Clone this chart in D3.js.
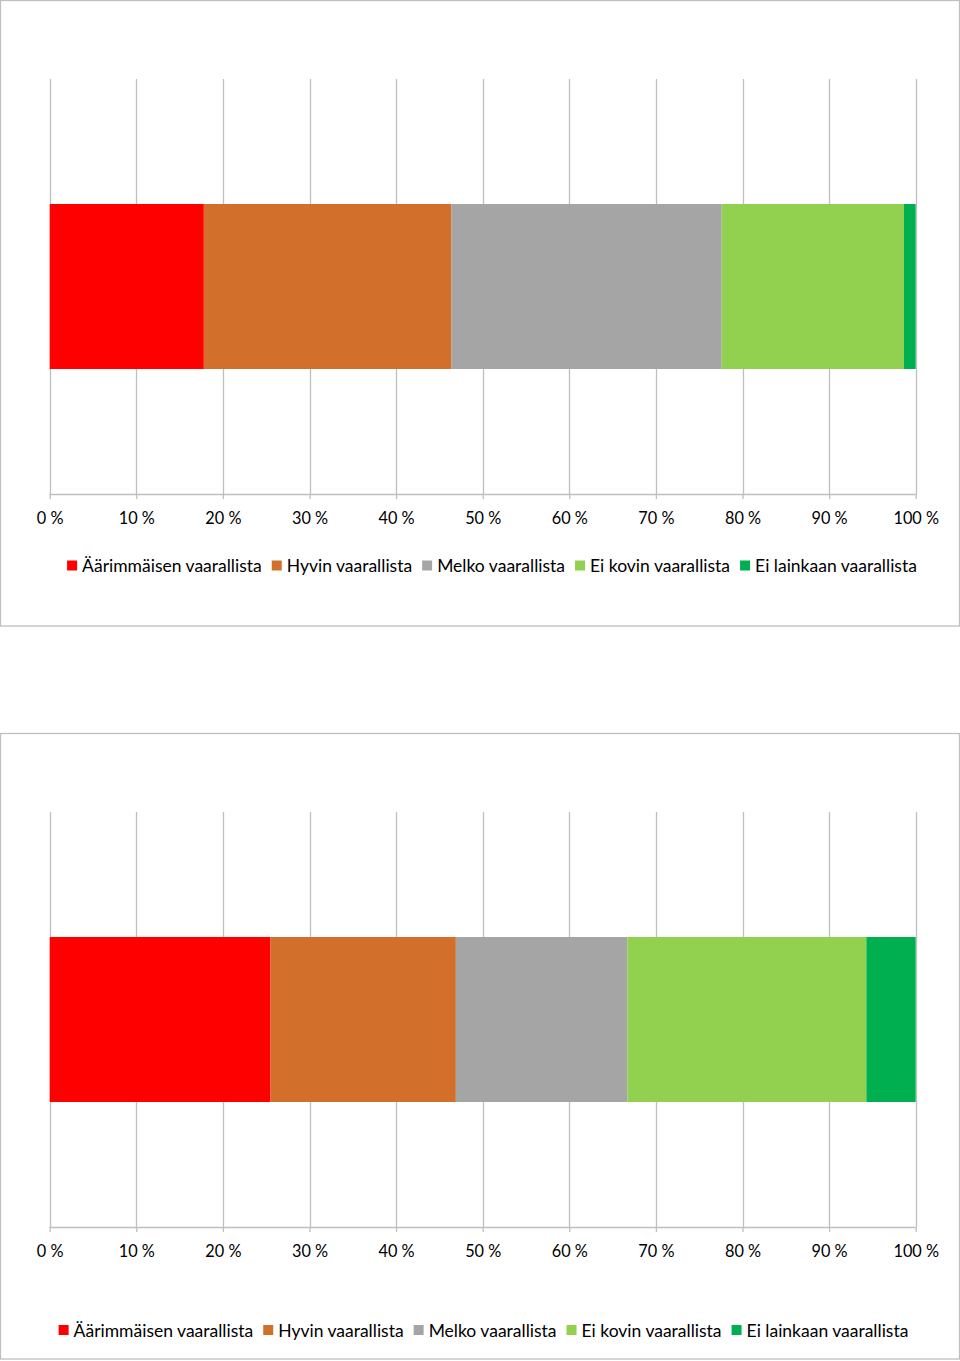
<!DOCTYPE html>
<html>
<head>
  <meta charset="utf-8">
  <title>Vaarallisuus</title>
  <script src="https://d3js.org/d3.v7.min.js"></script>
  <style>
    body { margin: 0; background: #fff; }
    svg { display: block; }
    text { font-family: Lato, "Open Sans", sans-serif; fill: #000; }
    .tick-label { font-size: 16.3px; text-anchor: middle; }
    .legend-label { font-size: 17.5px; }
  </style>
</head>
<body>
  <script>
    // categories (legend order) and values, %
    var categories = ["Äärimmäisen vaarallista", "Hyvin vaarallista", "Melko vaarallista",
                      "Ei kovin vaarallista", "Ei lainkaan vaarallista"];
    var colors = ["#ff0000", "#d2702b", "#a5a5a5", "#92d050", "#00b050"];
    var chart1Values = [17.8, 28.6, 31.2, 21.05, 1.35];
    var chart2Values = [25.5, 21.4, 19.8, 27.6, 5.7];
    var tickValues = [0, 10, 20, 30, 40, 50, 60, 70, 80, 90, 100];

    var W = 960, H = 1361;
    var svg = d3.select("body").append("svg")
        .attr("width", W)
        .attr("height", H);

    var x = d3.scaleLinear().domain([0, 100]).range([49.7, 915.7]);

    function drawChart(values, top, legendCenter, legendY) {
      var g = svg.append("g").attr("transform", "translate(0," + top + ")");

      // frame
      g.append("rect")
          .attr("x", 0.5).attr("y", 0.5)
          .attr("width", 959).attr("height", 625.5)
          .attr("fill", "#fff")
          .attr("stroke", "#bfbfbf")
          .attr("stroke-width", 1.3);

      var plotTop = 79, plotBottom = 494;
      var y = d3.scaleBand().domain(["bar"]).range([plotTop, plotBottom]).paddingInner(0).paddingOuter(0.7576);

      // gridlines
      g.append("g").selectAll("line")
        .data(tickValues)
        .join("line")
          .attr("x1", d => Math.round(x(d)) + 0.5)
          .attr("x2", d => Math.round(x(d)) + 0.5)
          .attr("y1", plotTop)
          .attr("y2", plotBottom)
          .attr("stroke", "#bfbfbf")
          .attr("stroke-width", 1.3);

      // stacked bar
      var stacked = [];
      var acc = 0;
      values.forEach(function(v, i) {
        stacked.push({ x0: acc, x1: acc + v, color: colors[i] });
        acc += v;
      });
      g.append("g").selectAll("rect")
        .data(stacked)
        .join("rect")
          .attr("x", d => x(d.x0))
          .attr("width", d => x(d.x1) - x(d.x0))
          .attr("y", y("bar"))
          .attr("height", y.bandwidth())
          .attr("fill", d => d.color);

      // x axis
      var axis = d3.axisBottom(x)
          .tickValues(tickValues)
          .tickSize(5)
          .tickFormat(d => d + " %");
      var ax = g.append("g")
          .attr("transform", "translate(0," + plotBottom + ")")
          .call(axis);
      ax.select(".domain").attr("stroke", "#bfbfbf").attr("stroke-width", 1.3)
        .attr("d", "M" + x(0) + ",0.5H" + x(100));
      ax.selectAll(".tick line").attr("stroke", "#bfbfbf").attr("stroke-width", 1.3);
      ax.selectAll(".tick text")
          .attr("class", "tick-label")
          .attr("y", 30)
          .attr("dy", 0)
          .attr("fill", "#000")
          .style("font-family", "Lato, 'Open Sans', sans-serif")
          .style("font-size", "16.3px");

      // legend
      var lg = g.append("g").attr("transform", "translate(0," + legendY + ")");
      var items = lg.selectAll("g")
        .data(categories)
        .join("g");
      items.append("rect")
          .attr("width", 10).attr("height", 10)
          .attr("y", -11.5)
          .attr("fill", (d, i) => colors[i]);
      items.append("text")
          .attr("class", "legend-label")
          .attr("x", 15)
          .text(d => d);
      var offsets = [], pos = 0;
      items.each(function() {
        var w = d3.select(this).select("text").node().getComputedTextLength();
        offsets.push(pos);
        pos += 15 + w + 10;
      });
      var total = pos - 10;
      var start = legendCenter - total / 2;
      items.attr("transform", (d, i) => "translate(" + (start + offsets[i]) + ",0)");
    }

    drawChart(chart1Values, 0, 492, 572);
    drawChart(chart2Values, 733, 483.5, 603.5);
  </script>
</body>
</html>
